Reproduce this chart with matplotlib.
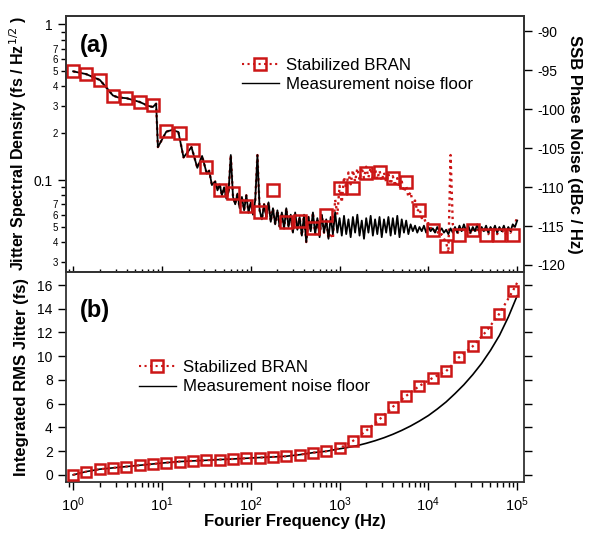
import numpy as np
import matplotlib
matplotlib.use('Agg')
import matplotlib.pyplot as plt
from matplotlib.lines import Line2D
from matplotlib.ticker import LogLocator, FuncFormatter, NullFormatter, MultipleLocator, FixedLocator

plt.rcParams['font.family'] = ['Liberation Sans', 'DejaVu Sans']
plt.rcParams['axes.unicode_minus'] = False

# ---------------- (a) jitter spectral density (fs / Hz^1/2) ----------------
# measurement noise floor, low frequency part
floor_lo_f = [1.0, 1.4, 2.0, 2.4, 2.8, 3.2, 4.0, 5.6, 7.0, 7.9, 8.6, 9.0, 11.2, 13.0,
              15.3, 17.5, 21.5, 25.0, 28.3, 32.0, 34.0, 36.5]
floor_lo_j = [0.50, 0.48, 0.44, 0.39, 0.35, 0.34, 0.336, 0.318, 0.30, 0.295, 0.31, 0.163,
              0.205, 0.21, 0.204, 0.140, 0.163, 0.120, 0.143, 0.110, 0.115, 0.093]

# measurement noise floor, 40 Hz .. 100 kHz (40 pts / decade)
floor_hi_f = np.logspace(1.6, 5.0, 137)
floor_hi_j = [0.098, 0.086, 0.094, 0.080, 0.090, 0.076, 0.084, 0.145, 0.078, 0.070,
              0.082, 0.066, 0.078, 0.064, 0.080, 0.062, 0.072, 0.060, 0.074, 0.145,
              0.064, 0.056, 0.070, 0.058, 0.072, 0.054, 0.066, 0.052, 0.064, 0.050,
              0.062, 0.049, 0.066, 0.050, 0.060, 0.046, 0.062, 0.048, 0.058, 0.044,
              0.060, 0.040, 0.058, 0.047, 0.062, 0.045, 0.057, 0.043, 0.060, 0.046,
              0.056, 0.042, 0.058, 0.045, 0.062, 0.046, 0.057, 0.044, 0.059, 0.045,
              0.056, 0.043, 0.058, 0.046, 0.060, 0.044, 0.055, 0.042, 0.057, 0.046,
              0.059, 0.044, 0.056, 0.045, 0.058, 0.043, 0.056, 0.046, 0.058, 0.044,
              0.057, 0.045, 0.059, 0.043, 0.056, 0.046, 0.055, 0.045, 0.052, 0.047,
              0.051, 0.046, 0.050, 0.047, 0.051, 0.046, 0.050, 0.047, 0.049, 0.046,
              0.050, 0.047, 0.049, 0.046, 0.048, 0.045, 0.049, 0.046, 0.050, 0.046,
              0.051, 0.047, 0.052, 0.047, 0.051, 0.046, 0.050, 0.047, 0.052, 0.046,
              0.050, 0.047, 0.051, 0.046, 0.050, 0.047, 0.051, 0.046, 0.050, 0.047,
              0.051, 0.046, 0.050, 0.047, 0.052, 0.050, 0.055]

# stabilized BRAN above ~800 Hz (below that it lies under the noise floor trace)
bran_hi_f = np.logspace(2.9, 5.0, 85)
bran_hi_j = [0.046, 0.042, 0.075, 0.060, 0.092, 0.072, 0.105, 0.088, 0.112, 0.094,
             0.116, 0.098, 0.119, 0.100, 0.121, 0.103, 0.122, 0.104, 0.120, 0.103,
             0.118, 0.101, 0.115, 0.099, 0.112, 0.097, 0.110, 0.094, 0.106, 0.091,
             0.103, 0.088, 0.098, 0.084, 0.092, 0.078, 0.084, 0.070, 0.074, 0.063,
             0.066, 0.057, 0.058, 0.052, 0.053, 0.049, 0.050, 0.046, 0.047, 0.044,
             0.045, 0.042, 0.040, 0.034, 0.145, 0.052, 0.048, 0.045, 0.049, 0.046,
             0.050, 0.046, 0.049, 0.045, 0.048, 0.046, 0.050, 0.045, 0.049, 0.046,
             0.048, 0.045, 0.049, 0.046, 0.048, 0.045, 0.049, 0.046, 0.048, 0.045,
             0.049, 0.046, 0.050, 0.052, 0.058]

# square markers, every 0.15 decade from 1 Hz
mark_f = 10 ** (np.arange(34) * 0.15)
mark_a = [0.50, 0.483, 0.438, 0.347, 0.339, 0.318, 0.306, 0.207, 0.202, 0.157,
          0.122, 0.086, 0.083, 0.068, 0.062, 0.086, 0.054, 0.055, 0.049, 0.060,
          0.0885, 0.089, 0.111, 0.113, 0.103, 0.097, 0.064, 0.0475, 0.038, 0.0444,
          0.0478, 0.0444, 0.0444, 0.0444]

# ---------------- (b) integrated RMS jitter (fs) ----------------
mark_b = [0.0, 0.28, 0.48, 0.59, 0.70, 0.81, 0.92, 1.03, 1.12, 1.18,
          1.23, 1.29, 1.34, 1.40, 1.46, 1.51, 1.57, 1.70, 1.87, 1.99,
          2.24, 2.86, 3.72, 4.68, 5.74, 6.66, 7.50, 8.18, 8.74, 9.94,
          10.84, 12.08, 13.59, 15.49]
bran_end_f = 1e5
bran_end_b = 16.2

floor_b_f = [1.0, 1.41, 2.0, 2.82, 3.98, 5.62, 7.94, 11.2, 15.8, 22.4, 31.6, 44.7, 63.1,
             89.1, 126, 178, 251, 355, 501, 708, 1000, 1259, 1585, 1995, 2512, 3162,
             3981, 5012, 6310, 7943, 10000, 12590, 15850, 19950, 25120, 31620, 39810,
             50120, 63100, 79430, 100000]
floor_b = [0.0, 0.28, 0.48, 0.59, 0.70, 0.81, 0.92, 1.03, 1.12, 1.18, 1.23, 1.29, 1.34,
           1.40, 1.46, 1.51, 1.57, 1.70, 1.87, 1.99, 2.20, 2.32, 2.47, 2.66, 2.88, 3.13,
           3.42, 3.75, 4.12, 4.54, 5.00, 5.55, 6.15, 6.85, 7.60, 8.45, 9.40, 10.5,
           11.75, 13.3, 15.1]

red = '#cc1616'

fig = plt.figure(figsize=(5.89, 5.33), dpi=100)
ax1 = fig.add_axes([0.112, 0.4897, 0.778, 0.4803])
ax2 = fig.add_axes([0.112, 0.0957, 0.778, 0.394])

# red trace: noise floor shape below 800 Hz, own data above
cut = floor_hi_f < 10 ** 2.89
bran_f = np.concatenate([floor_lo_f, floor_hi_f[cut], bran_hi_f])
bran_j = np.concatenate([floor_lo_j, np.array(floor_hi_j)[cut], bran_hi_j])
fl_f = np.concatenate([floor_lo_f, floor_hi_f])
fl_j = np.concatenate([floor_lo_j, floor_hi_j])

ax1.plot(bran_f, bran_j, color=red, ls=':', lw=1.7, zorder=2)
ax1.plot(fl_f, fl_j, color='black', lw=1.3, zorder=3)
ax1.plot(mark_f, mark_a, ls='none', marker='s', ms=9, mfc='none', mec=red, mew=1.8, zorder=4)

ax1.set_xscale('log')
ax1.set_yscale('log')
ax1.set_xlim(0.83, 1.2e5)
ylo, yhi = 0.0257, 1.134
ax1.set_ylim(ylo, yhi)

def minor_fmt(v, pos):
    m = v / 10 ** np.floor(np.log10(v) + 1e-9)
    m = int(round(m))
    return str(m) if 2 <= m <= 7 else ''

ax1.yaxis.set_major_locator(FixedLocator([0.1, 1.0]))
ax1.yaxis.set_major_formatter(FuncFormatter(lambda v, p: '1' if v >= 0.99 else '0.1'))
ax1.yaxis.set_minor_locator(LogLocator(base=10, subs=np.arange(2, 10)))
ax1.yaxis.set_minor_formatter(FuncFormatter(minor_fmt))
ax1.tick_params(axis='y', which='major', direction='out', length=6, width=1, labelsize=10)
ax1.tick_params(axis='y', which='minor', direction='out', length=3.5, width=1, labelsize=7, pad=2)
ax1.xaxis.set_minor_locator(LogLocator(base=10, subs=np.arange(2, 10)))
ax1.tick_params(axis='x', which='major', direction='inout', length=9, width=1, labelbottom=False)
ax1.tick_params(axis='x', which='minor', direction='inout', length=5, width=1, labelbottom=False)
ax1.set_ylabel('Jitter Spectral Density (fs / Hz$^{1/2}$ )', fontsize=11.5, fontweight='bold', labelpad=3)
ax1.text(0.03, 0.93, '(a)', transform=ax1.transAxes, fontsize=17, fontweight='bold', va='top')

# right axis: SSB phase noise
ax1r = ax1.twinx()
ax1r.set_ylim(20 * np.log10(ylo) - 89.1, 20 * np.log10(yhi) - 89.1)
ax1r.yaxis.set_major_locator(MultipleLocator(5))
ax1r.tick_params(axis='y', direction='out', length=6, width=1, labelsize=10)
ax1r.set_ylabel('SSB Phase Noise (dBc / Hz)', fontsize=12, fontweight='bold', rotation=270, labelpad=12)

h_bran = Line2D([], [], color=red, ls=':', lw=1.5, marker='s', ms=8.5, mfc='none', mec=red, mew=1.8)
h_floor = Line2D([], [], color='black', lw=1.0)
ax1.legend([h_bran, h_floor], ['Stabilized BRAN', 'Measurement noise floor'], loc='upper left',
           bbox_to_anchor=(0.365, 0.87), frameon=False, fontsize=12.2, handlelength=2.2,
           handletextpad=0.4, borderpad=0, labelspacing=0.25)

# ---------------- bottom panel ----------------
ax2.plot(list(mark_f) + [bran_end_f], mark_b + [bran_end_b], color=red, ls=':', lw=1.6,
         marker='s', ms=7.5, mfc='none', mec=red, mew=1.8, markevery=slice(0, 34), zorder=3)
ax2.plot(floor_b_f, floor_b, color='black', lw=1.2, zorder=2)
ax2.set_xscale('log')
ax2.set_xlim(0.83, 1.2e5)
ax2.set_ylim(-0.6, 17.1)
ax2.yaxis.set_major_locator(MultipleLocator(2))
ax2.xaxis.set_minor_locator(LogLocator(base=10, subs=np.arange(2, 10)))
ax2.xaxis.set_minor_formatter(NullFormatter())
ax2.tick_params(axis='y', direction='out', length=6, width=1, labelsize=10, right=True)
ax2.tick_params(axis='x', which='major', direction='out', length=6, width=1, labelsize=10.5, pad=4)
ax2.tick_params(axis='x', which='minor', direction='out', length=3.5, width=1)
ax2.set_xlabel('Fourier Frequency (Hz)', fontsize=12, fontweight='bold', labelpad=0)
ax2.set_ylabel('Integrated RMS Jitter (fs)', fontsize=12, fontweight='bold', labelpad=6)
ax2.text(0.03, 0.87, '(b)', transform=ax2.transAxes, fontsize=17, fontweight='bold', va='top')
ax2.legend([h_bran, h_floor], ['Stabilized BRAN', 'Measurement noise floor'], loc='upper left',
           bbox_to_anchor=(0.14, 0.62), frameon=False, fontsize=12.2, handlelength=2.2,
           handletextpad=0.4, borderpad=0, labelspacing=0.25)

for ax in (ax1, ax1r, ax2):
    for s in ax.spines.values():
        s.set_linewidth(1.3)
        s.set_color('#333333')

fig.savefig('out.png', dpi=100)
